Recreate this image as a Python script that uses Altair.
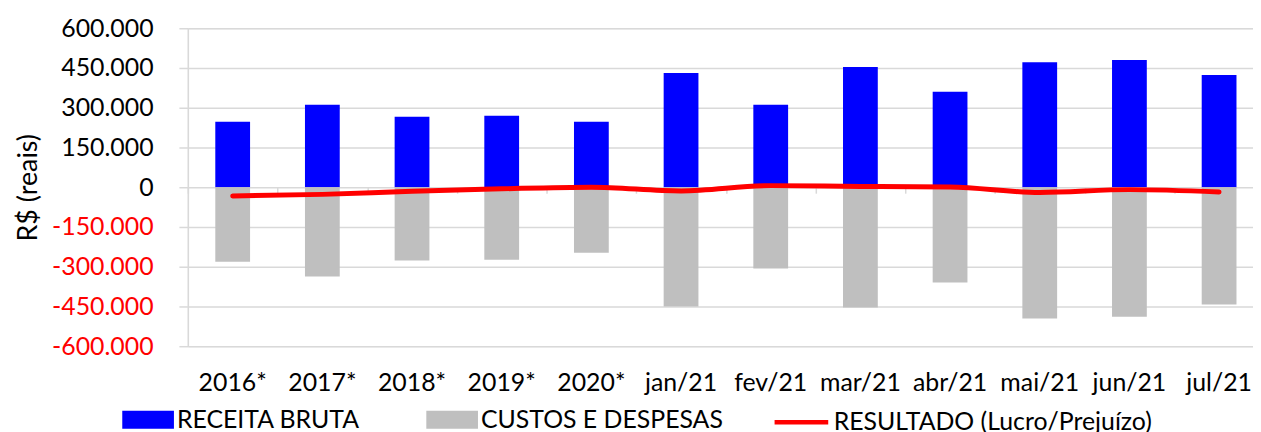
import altair as alt
import pandas as pd

categorias = ["2016*", "2017*", "2018*", "2019*", "2020*", "jan/21", "fev/21",
              "mar/21", "abr/21", "mai/21", "jun/21", "jul/21"]
receita = [247000, 311000, 266000, 270000, 247000, 431000, 311000,
           454000, 360000, 472000, 480000, 424000]
custos = [-281000, -337000, -277000, -274000, -247000, -450000, -307000,
          -454000, -360000, -495000, -489000, -443000]
resultado = [-33000, -27000, -15000, -6000, 0, -14000, 6000,
             3000, 1000, -20000, -9000, -18000]

series_barras = ["RECEITA BRUTA", "CUSTOS E DESPESAS"]
cores_barras = ["#0000FF", "#BFBFBF"]
serie_linha = ["RESULTADO (Lucro/Prejuízo)"]
cor_linha = ["#FF0000"]
y_ticks = [-600000, -450000, -300000, -150000, 0, 150000, 300000, 450000, 600000]

rows = []
for nome, vals in zip(series_barras + serie_linha, [receita, custos, resultado]):
    for c, v in zip(categorias, vals):
        rows.append({"categoria": c, "tipo": nome, "valor": v})
df = pd.DataFrame(rows)

FONT = "Lato"
rect_path = "M-1,-0.35L1,-0.35L1,0.35L-1,0.35Z"

xscale = alt.Scale(domain=categorias, range=[0, 1083], paddingInner=0, paddingOuter=0)
yscale = alt.Scale(domain=[-600000, 600000], nice=False)

x_main = alt.X("categoria:N", sort=categorias, scale=xscale, title=None,
               axis=alt.Axis(orient="bottom", labelAngle=0, labelFontSize=25,
                             labelFont=FONT, labelColor="#000000", domain=False,
                             ticks=False, labelPadding=25, grid=False))

y_enc = alt.Y("valor:Q", title="R$ (reais)", scale=yscale,
              axis=alt.Axis(values=y_ticks, labelFontSize=25, labelFont=FONT,
                            labelOverlap=False,
                            labelExpr="replace(replace(format(datum.value, ','), ',', '.'), '\u2212', '-')",
                            labelColor=alt.ExprRef(expr="datum.value < 0 ? '#FF0000' : '#000000'"),
                            tickSize=9, tickColor="#D9D9D9", tickWidth=1.5,
                            domainColor="#D9D9D9", domainWidth=1.5,
                            grid=True, gridColor="#D9D9D9", gridWidth=1.5, labelPadding=26,
                            titleFontSize=27, titleFont=FONT, titleFontWeight="normal",
                            titleColor="#000000", titlePadding=9))

bars = alt.Chart(df).transform_filter(
    alt.FieldOneOfPredicate(field="tipo", oneOf=series_barras)
).mark_bar(size=35).encode(
    x=x_main, y=y_enc,
    fill=alt.Fill("tipo:N", scale=alt.Scale(domain=series_barras, range=cores_barras),
                  legend=alt.Legend(orient="none", legendX=-66, legendY=368,
                                    direction="horizontal", title=None,
                                    labelFontSize=25, labelFont=FONT, labelColor="#000000",
                                    symbolType=rect_path, symbolSize=2704, labelOffset=3,
                                    symbolStrokeWidth=0, symbolOpacity=1,
                                    columnPadding=66, padding=0, labelLimit=600)),
)

linha = alt.Chart(df).transform_filter(
    alt.FieldOneOfPredicate(field="tipo", oneOf=serie_linha)
).mark_line(
    strokeWidth=5, interpolate="monotone", strokeCap="round"
).encode(
    x=alt.X("categoria:N", sort=categorias, scale=xscale, title=None,
            axis=alt.Axis(orient="bottom", offset=-160, labels=False, domain=False,
                          ticks=True, tickSize=6, tickColor="#D9D9D9", tickWidth=1.5,
                          tickBand="extent", grid=False)),
    y=y_enc,
    stroke=alt.Stroke("tipo:N", scale=alt.Scale(domain=serie_linha, range=cor_linha),
                      legend=alt.Legend(orient="none", legendX=588, legendY=367,
                                        title=None, labelFontSize=25, labelFont=FONT,
                                        labelColor="#000000", symbolType="stroke",
                                        symbolSize=2916, symbolStrokeWidth=4.5,
                                        labelOffset=3, padding=0, labelLimit=600)),
)

chart = alt.layer(bars, linha).resolve_axis(x="independent").properties(
    width=1072, height=320,
    autosize=alt.AutoSizeParams(type="none"),
    padding={"left": 181, "top": 19, "right": 0, "bottom": 90},
).configure_view(stroke=None).configure(font=FONT)

chart.save("out.html", embed_options={"renderer": "svg", "actions": False})
